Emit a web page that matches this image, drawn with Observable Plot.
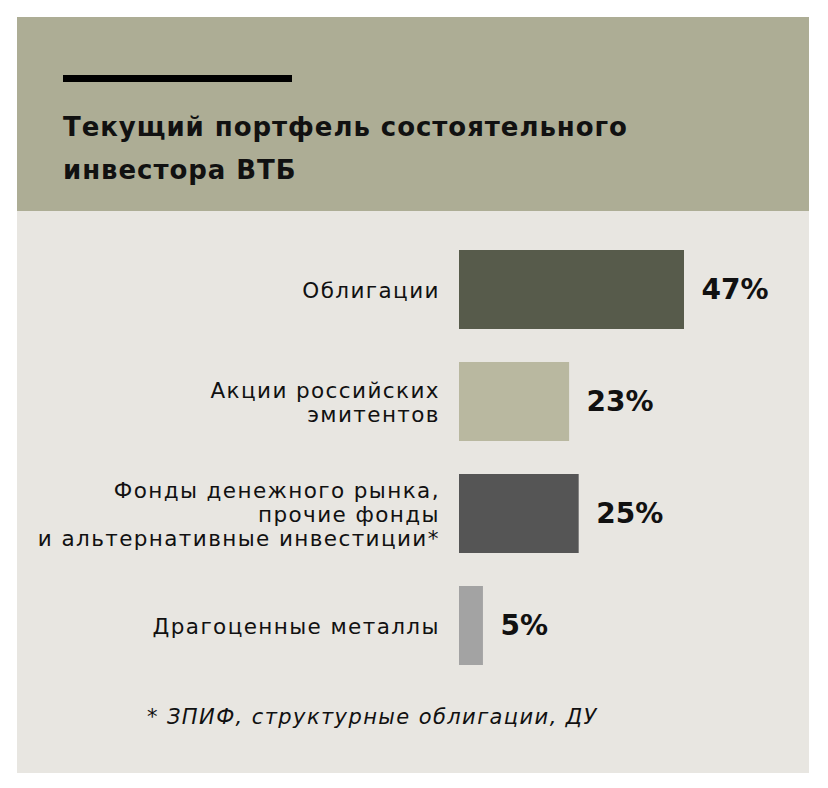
<!DOCTYPE html>
<html>
<head>
<meta charset="utf-8">
<script src="https://cdn.jsdelivr.net/npm/d3@7"></script>
<script src="https://cdn.jsdelivr.net/npm/@observablehq/plot@0.6"></script>
<style>
  html, body { margin: 0; padding: 0; background: #ffffff; }
  body { width: 828px; height: 788px; position: relative; font-family: "DejaVu Sans", sans-serif; }
  #panel { position: absolute; left: 17px; top: 17px; width: 792px; height: 756px; background: #e8e6e1; }
  #header { position: absolute; left: 0; top: 0; width: 792px; height: 194px; background: #adad95; }
  #rule { position: absolute; left: 46px; top: 58px; width: 229px; height: 7px; background: #000; }
  #title { position: absolute; left: 46px; top: 89px; font-weight: 700; font-size: 26px; line-height: 43px; letter-spacing: 0.95px; color: #111; margin: 0; white-space: nowrap; }
  #chart { position: absolute; left: 0; top: 194px; }
  #note { position: absolute; left: 130px; top: 688px; font-style: italic; font-size: 21px; letter-spacing: 1.4px; color: #111; margin: 0; white-space: nowrap; }
</style>
</head>
<body>
<div id="panel">
  <div id="header">
    <div id="rule"></div>
    <h1 id="title">Текущий портфель состоятельного<br>инвестора ВТБ</h1>
  </div>
  <div id="chart"></div>
  <p id="note">* ЗПИФ, структурные облигации, ДУ</p>
</div>
<script>
const categories = [
  "Облигации",
  "Акции российских\nэмитентов",
  "Фонды денежного рынка,\nпрочие фонды\nи альтернативные инвестиции*",
  "Драгоценные металлы"
];
const values = [47, 23, 25, 5];
const valueLabels = ["47%", "23%", "25%", "5%"];
const colors = ["#575b4b", "#b9b8a0", "#555555", "#a3a3a3"];

const data = categories.map((c, i) => ({category: c, value: values[i], label: valueLabels[i], color: colors[i]}));

const chart = Plot.plot({
  width: 792,
  height: 480,
  marginLeft: 442,
  marginRight: 125,
  marginTop: 39,
  marginBottom: 26,
  style: {background: "transparent", fontFamily: "'DejaVu Sans', sans-serif", overflow: "visible"},
  x: {domain: [0, 47], axis: null},
  y: {domain: categories, axis: null, paddingInner: 0.295, paddingOuter: 0},
  color: {type: "identity"},
  marks: [
    Plot.barX(data, {y: "category", x: "value", fill: "color"}),
    Plot.text(data, {y: "category", x: 0, text: "category", textAnchor: "end", dx: -19.6, fontSize: 21.5, lineHeight: 1.12, fill: "#111"}),
    Plot.text(data, {y: "category", x: "value", text: "label", textAnchor: "start", dx: 17, fontSize: 28, fontWeight: 700, fill: "#111"})
  ]
});
const textGroups = chart.querySelectorAll('g[aria-label="text"]');
if (textGroups.length) textGroups[0].style.letterSpacing = "1.4px";
document.getElementById("chart").appendChild(chart);
</script>
</body>
</html>
